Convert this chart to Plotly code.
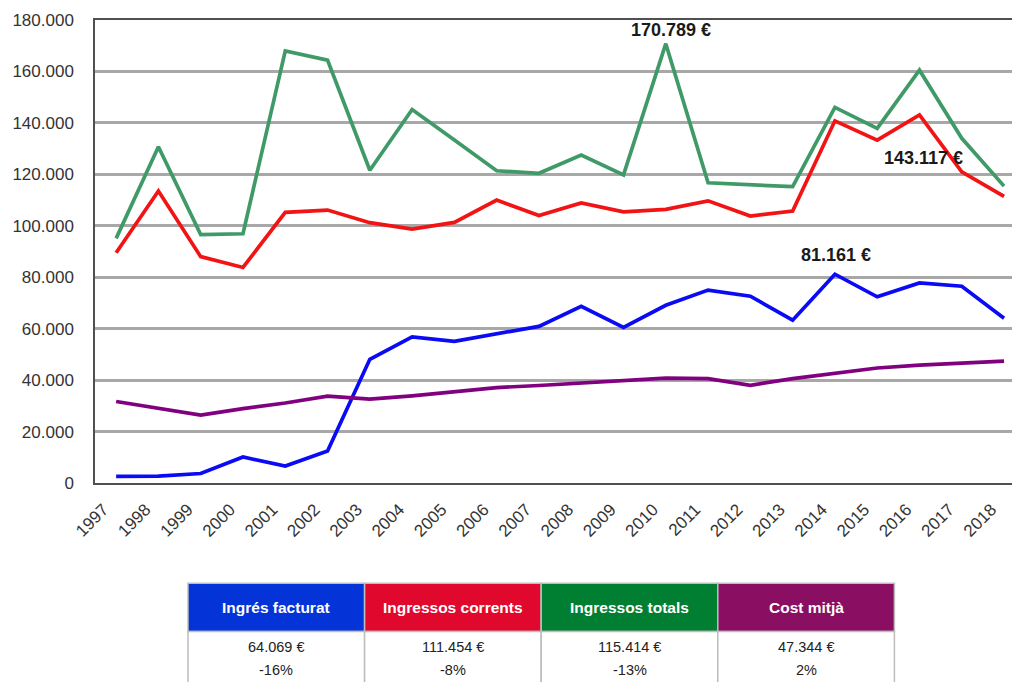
import plotly.graph_objects as go

years = list(range(1997, 2019))
year_labels = [str(y) for y in years]

ingres_facturat = [2600, 2700, 3700, 10100, 6600, 12400, 48100, 56800, 55100, 58100, 60900,
                   68700, 60500, 69100, 75000, 72600, 63300, 81161, 72400, 77800, 76500, 64069]
ingressos_corrents = [89500, 113500, 88000, 83800, 105200, 106100, 101200, 98700, 101300, 110000, 104000,
                      108900, 105400, 106400, 109700, 103800, 105700, 140800, 133300, 143117, 121000, 111454]
ingressos_totals = [95100, 130700, 96600, 96900, 168000, 164400, 121600, 145200, 133300, 121400, 120400,
                    127500, 119800, 170789, 116700, 116100, 115200, 146000, 137900, 160500, 134000, 115414]
cost_mitja = [31700, 29000, 26400, 28900, 31100, 33800, 32600, 33900, 35600, 37100, 37900,
              38900, 39600, 40800, 40600, 38000, 40600, 42500, 44700, 45800, 46400, 47344]

series_names = ["Ingrés facturat", "Ingressos corrents", "Ingressos totals", "Cost mitjà"]
series_values = [ingres_facturat, ingressos_corrents, ingressos_totals, cost_mitja]
line_colors = ["#0A0AF5", "#F21414", "#3F9A68", "#800080"]
header_colors = ["#0433D8", "#E0082C", "#007F32", "#8A0E62"]
table_values = ["64.069 €", "111.454 €", "115.414 €", "47.344 €"]
table_changes = ["-16%", "-8%", "-13%", "2%"]

# callouts: (series index, year)
callouts = [(2, 2010), (1, 2016), (0, 2014)]

# page has an 8px body margin; size the figure so it fits the 1020x682 window
OFF = 8
W, H = 1020 - OFF, 682 - OFF
PL, PR, PT, PB = 95, 1018, 20, 482.7          # plot area in page pixels
L, R, T, B = PL - OFF, (OFF + W) - PR, PT - OFF, (OFF + H) - PB
PW, PH = PR - PL, PB - PT


def px(x):
    return (x - PL) / PW


def py(y):
    return (PB - y) / PH


FONT = "Liberation Sans, Arial"

fig = go.Figure()
for name, vals, col in zip(series_names, series_values, line_colors):
    fig.add_trace(go.Scatter(x=years, y=vals, mode="lines", name=name,
                             line=dict(color=col, width=3.7), showlegend=False))

# callout labels
callout_offsets = [(5, 14), (4, -43), (1, 19)]
for (si, yr), (dx, dy) in zip(callouts, callout_offsets):
    v = series_values[si][years.index(yr)]
    txt = f"{v:,}".replace(",", ".") + " €"
    fig.add_annotation(x=yr, y=v, text=f"<b>{txt}</b>", showarrow=False,
                       xshift=dx, yshift=dy, font=dict(size=18, color="#1a1a1a", family=FONT))

# table
col_left = 188
col_w = 176.6
top_y, mid_y, bot_y = 583, 631, 700
for i, (name, hc, val, chg) in enumerate(zip(series_names, header_colors, table_values, table_changes)):
    x0 = col_left + i * col_w
    x1 = x0 + col_w
    fig.add_shape(type="rect", xref="paper", yref="paper",
                  x0=px(x0), x1=px(x1), y0=py(mid_y), y1=py(top_y),
                  fillcolor=hc, line=dict(color="#BDBDBD", width=1.5))
    fig.add_shape(type="rect", xref="paper", yref="paper",
                  x0=px(x0), x1=px(x1), y0=py(bot_y), y1=py(mid_y),
                  fillcolor="white", line=dict(color="#BDBDBD", width=1.5))
    xc = px((x0 + x1) / 2)
    fig.add_annotation(xref="paper", yref="paper", x=xc, y=py(607), text=f"<b>{name}</b>",
                       showarrow=False, font=dict(size=15.5, color="white", family=FONT),
                       xanchor="center", yanchor="middle")
    fig.add_annotation(xref="paper", yref="paper", x=xc, y=py(647), text=val,
                       showarrow=False, font=dict(size=14.5, color="#222222", family=FONT),
                       xanchor="center", yanchor="middle")
    fig.add_annotation(xref="paper", yref="paper", x=xc, y=py(670), text=chg,
                       showarrow=False, font=dict(size=14.5, color="#222222", family=FONT),
                       xanchor="center", yanchor="middle")

tick_pos = [y - 0.3 for y in years]

fig.update_layout(
    width=W, height=H,
    margin=dict(l=L, r=R, t=T, b=B, autoexpand=False),
    paper_bgcolor="white", plot_bgcolor="white",
    separators=",.",
    font=dict(family=FONT, color="#333333"),
    xaxis=dict(range=[1996.5, 2018.33], tickmode="array", tickvals=tick_pos, ticktext=year_labels,
               tickangle=-45, tickfont=dict(size=17, color="#333333"),
               showgrid=False, zeroline=False, showline=True, linecolor="#505050", linewidth=2,
               mirror=True, ticks="", ticklabelstandoff=8),
    yaxis=dict(range=[0, 180000], dtick=20000, tickformat=",d",
               tickfont=dict(size=17, color="#333333"),
               showgrid=True, gridcolor="#A8A8A8", gridwidth=2.5,
               zeroline=False, showline=True, linecolor="#505050", linewidth=1.5,
               ticks="", ticklabelstandoff=16),
)

fig.write_html("out.html")
